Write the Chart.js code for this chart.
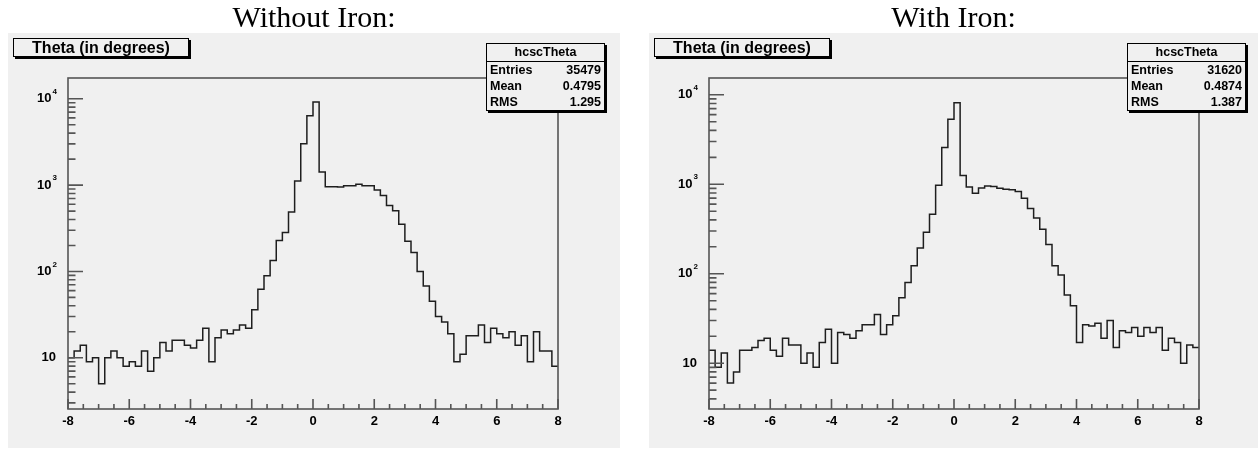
<!DOCTYPE html>
<html>
<head>
<meta charset="utf-8">
<title>hcscTheta</title>
<script src="https://cdn.jsdelivr.net/npm/chart.js@4.4.1/dist/chart.umd.min.js"></script>
<style>
body { margin: 0; background: #fff; }
.page { position: relative; width: 1258px; height: 449px; overflow: hidden; font-family: "Liberation Sans", Arial, sans-serif; }
.heading { position: absolute; top: 0; height: 34px; line-height: 34px; font-family: "Liberation Serif", "Times New Roman", serif; font-size: 30px; text-align: center; color: #000; z-index: 2; }
.panel { position: absolute; top: 33px; height: 415px; background: #f0f0f0; }
.panel canvas { position: absolute; left: 0; top: 0; }
.title-box { position: absolute; left: 5px; top: 5px; width: 176px; height: 19px; box-sizing: border-box; border: 1px solid #000; box-shadow: 2px 2px 0 #000; background: #f0f0f0; font-weight: bold; font-size: 16px; line-height: 17px; text-align: center; }
.stats { position: absolute; left: 478px; top: 10px; width: 119px; box-sizing: border-box; border: 1px solid #000; box-shadow: 2px 2px 0 #000; background: #f0f0f0; font-weight: bold; font-size: 12.5px; }
.stats .head { height: 17px; line-height: 17px; text-align: center; border-bottom: 1px solid #000; }
.stats .row { display: flex; justify-content: space-between; height: 16px; line-height: 16px; padding: 0 3px; }
</style>
</head>
<body>
<div class="page">
  <div class="heading" style="left:8px;width:612px">Without Iron:</div>
  <div class="heading" style="left:649px;width:609px">With Iron:</div>
  <div class="panel" id="panelNoIron" style="left:8px;width:612px">
    <canvas id="chartNoIron" width="612" height="415"></canvas>
  </div>
  <div class="panel" id="panelIron" style="left:649px;width:609px">
    <canvas id="chartIron" width="609" height="415"></canvas>
  </div>
</div>
<script>
// lower edge of each 0.2 degree bin, last bin ends at 8
const binLow = [
  -8.0, -7.8, -7.6, -7.4, -7.2, -7.0, -6.8, -6.6, -6.4, -6.2,
  -6.0, -5.8, -5.6, -5.4, -5.2, -5.0, -4.8, -4.6, -4.4, -4.2,
  -4.0, -3.8, -3.6, -3.4, -3.2, -3.0, -2.8, -2.6, -2.4, -2.2,
  -2.0, -1.8, -1.6, -1.4, -1.2, -1.0, -0.8, -0.6, -0.4, -0.2,
  0.0, 0.2, 0.4, 0.6, 0.8, 1.0, 1.2, 1.4, 1.6, 1.8,
  2.0, 2.2, 2.4, 2.6, 2.8, 3.0, 3.2, 3.4, 3.6, 3.8,
  4.0, 4.2, 4.4, 4.6, 4.8, 5.0, 5.2, 5.4, 5.6, 5.8,
  6.0, 6.2, 6.4, 6.6, 6.8, 7.0, 7.2, 7.4, 7.6, 7.8
];
const binHighEdge = 8.0;

const countsNoIron = [
  10, 12, 14, 9, 10, 5, 10, 12, 10, 8,
  9, 8, 12, 7, 10, 15, 12, 16, 16, 14,
  13, 16, 22, 9, 17, 21, 19, 21, 24, 22,
  36, 62, 89, 134, 228, 283, 487, 1112, 3015, 6350,
  9150, 1416, 957, 957, 950, 982, 982, 1020, 982, 982,
  875, 759, 581, 504, 353, 224, 166, 100, 68, 45,
  30, 26, 19, 9, 11, 18, 18, 24, 15, 22,
  19, 17, 20, 14, 18, 9, 20, 12, 12, 8
];

const countsIron = [
  14, 9, 13, 6, 8, 14, 14, 15, 18, 19,
  14, 12, 19, 16, 16, 10, 13, 9, 17, 24,
  10, 22, 21, 19, 23, 27, 27, 35, 21, 27,
  34, 54, 80, 123, 194, 291, 462, 975, 2570, 5320,
  8170, 1250, 933, 792, 910, 958, 942, 902, 879, 871,
  828, 698, 535, 421, 314, 212, 123, 97, 58, 44,
  17, 27, 26, 28, 19, 30, 15, 23, 22, 25,
  20, 25, 22, 25, 14, 19, 17, 10, 16, 15
];

const xTickValues = [-8, -6, -4, -2, 0, 2, 4, 6, 8];
const xTickLabels = ["-8", "-6", "-4", "-2", "0", "2", "4", "6", "8"];
const yTickValues = [10, 100, 1000, 10000];
const yTickExponents = ["", "2", "3", "4"];

const histTitle = "Theta (in degrees)";
const statsName = "hcscTheta";
const statLabels = ["Entries", "Mean", "RMS"];
const statsNoIron = ["35479", "0.4795", "1.295"];
const statsIron = ["31620", "0.4874", "1.387"];

const labelFont = "bold 13px 'Liberation Sans', Arial, sans-serif";
const expFont = "bold 8px 'Liberation Sans', Arial, sans-serif";

// ROOT style frame: ticks inside the frame, 10^n labels on the y axis
const rootAxes = {
  id: "rootAxes",
  afterDatasetsDraw(chart) {
    const { ctx, chartArea: a, scales: { x, y } } = chart;
    ctx.save();
    ctx.strokeStyle = "#555";
    ctx.lineWidth = 1.6;
    ctx.strokeRect(a.left, a.top, a.right - a.left, a.bottom - a.top);

    ctx.beginPath();
    for (let v = -8; v <= 8; v += 0.5) {
      const px = x.getPixelForValue(v);
      const len = v % 2 === 0 ? 10 : 5;
      ctx.moveTo(px, a.bottom);
      ctx.lineTo(px, a.bottom - len);
    }
    [1, 10, 100, 1000, 10000].forEach(decade => {
      for (let m = 1; m <= 9; m++) {
        const v = m * decade;
        if (v < y.min || v > y.max) continue;
        const py = y.getPixelForValue(v);
        const len = m === 1 ? 15 : 7.5;
        ctx.moveTo(a.left, py);
        ctx.lineTo(a.left + len, py);
      }
    });
    ctx.stroke();

    ctx.fillStyle = "#000";
    ctx.textBaseline = "middle";
    yTickValues.forEach((v, i) => {
      const py = y.getPixelForValue(v);
      const exp = yTickExponents[i];
      ctx.textAlign = "right";
      ctx.font = labelFont;
      if (exp === "") {
        ctx.fillText("10", a.left - 12, py);
      } else {
        ctx.font = expFont;
        const ew = ctx.measureText(exp).width;
        ctx.textAlign = "left";
        ctx.fillText(exp, a.left - 11 - ew, py - 7);
        ctx.font = labelFont;
        ctx.textAlign = "right";
        ctx.fillText("10", a.left - 12 - ew, py);
      }
    });
    ctx.restore();
  }
};

const makeChart = (canvasId, counts, yMin, yMax, padRight) => {
  const points = binLow.map((edge, i) => ({ x: edge, y: counts[i] }));
  points.push({ x: binHighEdge, y: counts[counts.length - 1] });

  return new Chart(document.getElementById(canvasId), {
    type: "line",
    data: {
      datasets: [{
        data: points,
        stepped: "before",
        borderColor: "#1e1e1e",
        borderWidth: 1.5,
        pointRadius: 0,
        fill: false
      }]
    },
    options: {
      responsive: false,
      animation: false,
      events: [],
      layout: { padding: { top: 45, right: padRight, left: 0, bottom: 0 } },
      plugins: { legend: { display: false }, tooltip: { enabled: false } },
      scales: {
        x: {
          type: "linear",
          min: -8,
          max: 8,
          grid: { display: false, drawTicks: false },
          border: { display: false },
          afterBuildTicks: s => { s.ticks = xTickValues.map(v => ({ value: v })); },
          ticks: {
            color: "#000",
            font: { family: "'Liberation Sans', Arial, sans-serif", size: 13, weight: "bold" },
            padding: 5,
            maxRotation: 0,
            autoSkip: false,
            callback: (v, i) => xTickLabels[i]
          },
          afterFit: s => { s.height = 39; }
        },
        y: {
          type: "logarithmic",
          min: yMin,
          max: yMax,
          grid: { display: false, drawTicks: false },
          border: { display: false },
          ticks: { display: false },
          afterFit: s => { s.width = 60; }
        }
      }
    },
    plugins: [rootAxes]
  });
};

const addBoxes = (panelId, values) => {
  const panel = document.getElementById(panelId);
  const title = document.createElement("div");
  title.className = "title-box";
  title.textContent = histTitle;
  panel.appendChild(title);

  const stats = document.createElement("div");
  stats.className = "stats";
  const head = document.createElement("div");
  head.className = "head";
  head.textContent = statsName;
  stats.appendChild(head);
  statLabels.forEach((label, i) => {
    const row = document.createElement("div");
    row.className = "row";
    row.innerHTML = "<span>" + label + "</span><span>" + values[i] + "</span>";
    stats.appendChild(row);
  });
  panel.appendChild(stats);
};

makeChart("chartNoIron", countsNoIron, 2.55, 17400, 62);
makeChart("chartIron", countsIron, 3.08, 15400, 59);
addBoxes("panelNoIron", statsNoIron);
addBoxes("panelIron", statsIron);
</script>
</body>
</html>
